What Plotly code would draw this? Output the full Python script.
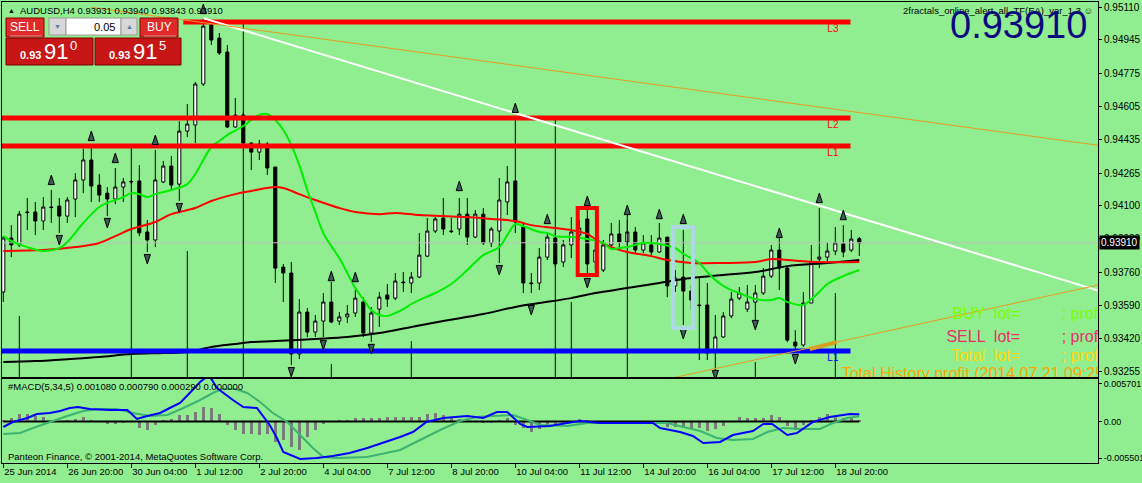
import plotly.graph_objects as go

# ---------------- price data (AUDUSD H4), one value per bar ----------------
bars = list(range(108))
opens = [0.93659,0.93934,0.93899,0.94067,0.94067,0.94021,0.94092,0.94097,0.94046,0.94133,
         0.94230,0.94332,0.94204,0.94163,0.94133,0.94194,0.94220,0.94225,0.93965,0.93924,
         0.94220,0.94301,0.94209,0.94479,0.94510,0.94719,0.95020,0.94953,0.94882,0.94500,
         0.94561,0.94418,0.94372,0.94413,0.94296,0.93786,0.93756,0.93343,0.93557,0.93455,
         0.93511,0.93608,0.93511,0.93532,0.93552,0.93608,0.93450,0.93572,0.93644,0.93628,
         0.93710,0.93705,0.93735,0.93842,0.93970,0.94036,0.93970,0.93980,0.94056,0.93939,
         0.94056,0.93909,0.93970,0.94118,0.94225,0.93990,0.93705,0.93705,0.93837,0.93934,
         0.93812,0.93899,0.93949,0.94031,0.93812,0.93771,0.93899,0.93955,0.93914,0.93965,
         0.93873,0.93899,0.93863,0.93939,0.93690,0.93735,0.93664,0.93593,0.93593,0.93353,
         0.93430,0.93537,0.93628,0.93572,0.93608,0.93654,0.93740,0.93873,0.93781,0.93404,
         0.93389,0.93603,0.93827,0.93837,0.93868,0.93904,0.93873,0.93931]
highs = [0.93944,0.94000,0.94072,0.94138,0.94118,0.94143,0.94179,0.94138,0.94143,0.94265,
         0.94388,0.94403,0.94260,0.94194,0.94291,0.94240,0.94230,0.94306,0.94026,0.94383,
         0.94327,0.94352,0.94530,0.94617,0.94729,0.95055,0.95035,0.94979,0.94918,0.94648,
         0.94576,0.94423,0.94434,0.94423,0.94296,0.93802,0.93812,0.93623,0.93577,0.93542,
         0.93654,0.93710,0.93557,0.93593,0.93669,0.93633,0.93583,0.93659,0.93700,0.93756,
         0.93761,0.93761,0.93960,0.94036,0.94041,0.94138,0.94036,0.94138,0.94138,0.94077,
         0.94087,0.93990,0.94240,0.94301,0.94551,0.94016,0.93756,0.93883,0.93960,0.93960,
         0.93924,0.94041,0.94026,0.94077,0.93924,0.93924,0.94011,0.94026,0.94026,0.93990,
         0.93949,0.93949,0.94011,0.93939,0.93771,0.93975,0.93695,0.93735,0.93705,0.93542,
         0.93557,0.93659,0.93684,0.93695,0.93695,0.93781,0.93899,0.93934,0.93786,0.93465,
         0.93659,0.93899,0.94087,0.93914,0.93990,0.94000,0.93975,0.93940]
lows = [0.93608,0.93837,0.93888,0.93975,0.93949,0.93975,0.94011,0.93960,0.94011,0.94041,
        0.94163,0.94118,0.94118,0.94046,0.94107,0.94118,0.94209,0.93944,0.93863,0.93888,
        0.94214,0.94174,0.94123,0.94449,0.94418,0.94709,0.94918,0.94867,0.94495,0.94497,
        0.94408,0.94281,0.94332,0.94255,0.93705,0.93608,0.93287,0.93317,0.93430,0.93430,
        0.93430,0.93501,0.93491,0.93501,0.93532,0.93430,0.93404,0.93481,0.93583,0.93618,
        0.93659,0.93654,0.93730,0.93837,0.93960,0.93949,0.93960,0.93949,0.93899,0.93934,
        0.93899,0.93888,0.93807,0.94051,0.93960,0.93654,0.93654,0.93669,0.93822,0.93786,
        0.93786,0.93832,0.93924,0.93756,0.93771,0.93761,0.93888,0.93888,0.93899,0.93858,
        0.93858,0.93847,0.93858,0.93633,0.93659,0.93491,0.93567,0.93312,0.93312,0.93261,
        0.93425,0.93526,0.93618,0.93557,0.93516,0.93644,0.93730,0.93669,0.93404,0.93363,
        0.93379,0.93603,0.93781,0.93812,0.93847,0.93837,0.93863,0.93843]
closes = [0.93934,0.93899,0.94056,0.94064,0.94021,0.94092,0.94090,0.94046,0.94128,0.94230,
          0.94332,0.94199,0.94153,0.94133,0.94194,0.94220,0.94222,0.93960,0.93924,0.94230,
          0.94301,0.94204,0.94479,0.94515,0.94719,0.95014,0.94943,0.94877,0.94500,0.94561,
          0.94418,0.94372,0.94413,0.94291,0.93781,0.93756,0.93343,0.93557,0.93455,0.93511,
          0.93608,0.93506,0.93532,0.93547,0.93628,0.93450,0.93552,0.93633,0.93623,0.93715,
          0.93707,0.93735,0.93847,0.93970,0.94031,0.93980,0.93967,0.94056,0.93939,0.94056,
          0.93909,0.93980,0.94128,0.94220,0.94016,0.93705,0.93702,0.93837,0.93939,0.93802,
          0.93899,0.93965,0.93985,0.93802,0.93873,0.93899,0.93955,0.93914,0.93965,0.93873,
          0.93909,0.93863,0.93934,0.93690,0.93730,0.93664,0.93618,0.93590,0.93348,0.93430,
          0.93537,0.93623,0.93654,0.93608,0.93654,0.93740,0.93873,0.93781,0.93414,0.93384,
          0.93603,0.93812,0.93837,0.93868,0.93909,0.93863,0.93929,0.93910]

# moving averages (read at sample bars)
ma_fast_bars = [0,1,3,5,7,8,10,12,13,15,16,17,18,19,21,23,24,26,27,28,30,31,32,33,34,35,36,37,38,39,40,
                41,42,43,44,45,46,47,48,49,50,51,52,54,56,58,60,62,63,64,65,67,68,69,71,73,75,76,77,78,
                80,82,84,85,86,87,88,89,90,91,92,94,96,97,98,100,101,102,103,105,107]
ma_fast = [0.93944,0.93919,0.93888,0.93868,0.93883,0.93914,0.94011,0.94092,0.94113,0.94143,0.94163,0.94158,
           0.94143,0.94158,0.94179,0.94209,0.94260,0.94398,0.94429,0.94459,0.94505,0.94536,0.94561,0.94566,
           0.94536,0.94485,0.94408,0.94306,0.94179,0.94067,0.93960,0.93893,0.93832,0.93756,0.93679,0.93623,
           0.93567,0.93542,0.93537,0.93552,0.93572,0.93598,0.93618,0.93654,0.93700,0.93771,0.93847,0.93888,
           0.93949,0.94005,0.93995,0.93965,0.93960,0.93944,0.93939,0.93929,0.93909,0.93878,0.93883,0.93888,
           0.93909,0.93904,0.93883,0.93853,0.93832,0.93807,0.93761,0.93720,0.93690,0.93669,0.93654,0.93623,
           0.93618,0.93628,0.93608,0.93593,0.93623,0.93659,0.93700,0.93740,0.93771]
ma_mid_bars = [0,5,9,12,14,16,19,21,24,26,29,31,34,35,37,39,42,44,47,49,52,55,58,61,64,66,69,71,73,74,
               76,78,81,83,86,90,94,96,98,102,107]
ma_mid = [0.93868,0.93873,0.93888,0.93909,0.93944,0.93980,0.94016,0.94056,0.94087,0.94123,0.94158,0.94174,
          0.94194,0.94189,0.94158,0.94128,0.94087,0.94067,0.94056,0.94062,0.94051,0.94046,0.94041,0.94031,
          0.94021,0.94000,0.93985,0.93975,0.93955,0.93929,0.93888,0.93863,0.93842,0.93822,0.93807,0.93807,
          0.93812,0.93827,0.93822,0.93812,0.93812]
ma_slow_bars = [0,4,8,12,16,20,23,26,29,31,34,39,43,47,51,55,60,64,67,71,74,78,82,86,90,94,98,103,107]
ma_slow = [0.93302,0.93307,0.93317,0.93328,0.93343,0.93348,0.93353,0.93379,0.93394,0.93404,0.93409,0.93420,
           0.93430,0.93450,0.93481,0.93511,0.93547,0.93583,0.93603,0.93628,0.93654,0.93679,0.93705,0.93730,
           0.93746,0.93761,0.93791,0.93807,0.93822]

# fractals (arrow tip positions)
fractal_up_bars = [6,11,14,19,25,41,44,57,64,68,73,78,82,85,97,102,105]
fractal_up = [0.94255,0.94479,0.94367,0.94459,0.95126,0.93765,0.93760,0.94224,0.94622,0.94056,0.94148,
              0.94102,0.94081,0.94056,0.93985,0.94163,0.94076]
fractal_dn_bars = [7,13,18,22,36,40,46,62,66,73,85,89,94,99]
fractal_dn = [0.93899,0.93986,0.93802,0.94062,0.93226,0.93364,0.93344,0.93746,0.93542,0.93680,0.93420,
              0.93211,0.93466,0.93292]

# horizontal levels
level_names = ["L3", "L2", "L1", "L1"]
level_prices = [0.95035, 0.94546, 0.94403, 0.93358]
level_start = [22.5, -1, -1, -1]
level_end = [105.9, 105.9, 105.9, 105.9]
level_colors = ["#ff0000", "#ff0000", "#ff0000", "#0000ff"]

# vertical marker lines (bar, top price)
vline_bars = [2, 16, 23, 30, 41, 51, 69, 71, 78, 94, 104]
vline_tops = [0.93537, 0.94403, 0.93868, 0.95045, 0.93292, 0.93409, 0.94551, 0.93608, 0.94077, 0.93302, 0.93654]

# trend lines (bar0, price0, bar1, price1)
white_line = [25, 0.95055, 137, 0.93665]
orange_upper = [11, 0.95110, 137, 0.94406]
orange_lower = [80, 0.93189, 137, 0.93696]
gold_segment = [100.8, 0.93369, 104.2, 0.93404]

# highlight boxes (bar0, bar1, price top, price bottom)
red_box = [71.8, 74.2, 0.94087, 0.93746]
blue_box = [83.7, 86.2, 0.93990, 0.93476]

bid = 0.93910

# MACD(5,34,5)
macd_hist = [0.000225,0.000525,0.001125,0.001125,0.000825,0.000675,0.000075,0.000075,0.000225,0.000375,
             0.000675,0.000225,-0.000075,-0.000375,-0.000375,-0.000225,0.000075,-0.000975,-0.001275,-0.000525,
             0.000225,0.000375,0.000975,0.000975,0.001425,0.002175,0.002025,0.001125,-0.000525,-0.001275,
             -0.001875,-0.001875,-0.002025,-0.001875,-0.003075,-0.002775,-0.003825,-0.004275,-0.002325,-0.001275,
             -0.000375,0.000075,0.000225,0.000225,0.000525,0.000525,0.000525,0.000525,0.000675,0.000675,
             0.000675,0.000675,0.000675,0.001125,0.001275,0.000975,0.000525,0.000375,0.000225,0.000075,
             -0.000225,-0.000225,0.000225,0.000525,-0.000525,-0.000975,-0.001575,-0.001125,-0.000525,-0.000525,
             -0.000375,-0.000075,0.000375,0.000225,0.000075,0.000075,0.000075,-0.000075,0.000075,0.000075,
             -0.000075,-0.000075,-0.000225,-0.000825,-0.000825,-0.000975,-0.001125,-0.000975,-0.001425,-0.001125,
             -0.000675,0.000075,0.000675,0.000525,0.000525,0.000525,0.000975,0.000675,-0.000675,-0.001275,
             -0.000525,0.000225,0.000675,0.001125,0.000675,0.000525,0.000525,0.00029]
macd_main_bars = [0,1.2,3,4.2,5.8,7.1,8.3,9.3,10.8,13.3,15.5,16.7,18,19.6,20.8,22.1,23.3,24.6,25.7,26.7,
                  28.7,30,31.7,32.5,33.3,34.2,35,37.1,39.2,41.2,43.3,45.5,47.5,49.6,51.2,52.9,55,58,60,61.7,
                  63,64.6,65.5,68.3,70.5,72.1,74.6,78.7,81.2,82.1,84.6,86.2,87.5,89.6,91.2,93.7,95,96.1,98,99.2,
                  101.2,103.3,105.8,107]
macd_main = [-0.000825,-0.000075,0.000525,0.001125,0.001275,0.001575,0.002025,0.002175,0.001875,0.001725,
             0.001725,0.000375,0.000825,0.001275,0.002025,0.002775,0.004275,0.005925,0.006975,0.005025,
             0.003225,0.002175,0.002025,0.000675,-0.000525,-0.002475,-0.004575,-0.005625,-0.005475,-0.005175,
             -0.004725,-0.003975,-0.003225,-0.002325,-0.001575,-0.000075,0.000525,0.000825,0.000525,0.001425,
             0.001425,-0.000375,-0.000825,-0.000675,-0.000225,0.000075,-0.000225,-0.000225,-0.000225,-0.000975,
             -0.001575,-0.002175,-0.003225,-0.003075,-0.002025,-0.001425,-0.000375,-0.000375,-0.002025,-0.001725,
             -0.000075,0.000675,0.001125,0.00108]
macd_signal_bars = [0,2.1,3.7,5.8,8,10,12.1,14.2,16.2,18.3,20.5,22.5,24.6,26.2,27.3,29,30.5,32.1,33.7,35.5,
                    37.1,38.7,40,41.7,45.5,49.6,52.1,54.6,57.1,59.2,61.2,63.7,65.5,67.1,70.5,73,77.1,83,85,87.1,
                    89.2,91.2,93.7,95.5,97.5,99.6,102.1,103.7,105.5,107]
macd_signal = [-0.001875,-0.001725,-0.000975,-0.000075,0.000825,0.001575,0.001875,0.001875,0.001275,0.000825,
               0.000975,0.002025,0.003225,0.004275,0.004875,0.004875,0.004275,0.002925,0.001275,-0.000075,
               -0.002025,-0.003975,-0.005325,-0.005475,-0.005325,-0.004275,-0.002775,-0.001275,0.000075,0.000675,
               0.000825,0.000975,0.000225,-0.000525,-0.000675,-0.000225,-0.000225,-0.000225,-0.000825,-0.001425,
               -0.002475,-0.002775,-0.002625,-0.001575,-0.000975,-0.001125,-0.001125,-0.000225,0.000525,0.00079]

# axis ticks
time_tick_bars = [0, 8, 16, 24, 32, 40, 48, 56, 64, 72, 80, 88, 96, 104]
time_tick_labels = ["25 Jun 2014", "26 Jun 20:00", "30 Jun 04:00", "1 Jul 12:00", "2 Jul 20:00",
                    "4 Jul 04:00", "7 Jul 12:00", "8 Jul 20:00", "10 Jul 04:00", "11 Jul 12:00",
                    "14 Jul 20:00", "16 Jul 04:00", "17 Jul 12:00", "18 Jul 20:00"]
price_ticks = [0.95110, 0.94945, 0.94775, 0.94605, 0.94435, 0.94265, 0.94100, 0.93930,
               0.93760, 0.93590, 0.93420, 0.93255]
price_tick_labels = ["%.5f" % v for v in price_ticks]
macd_ticks = [0.005701, 0.0, -0.005501]
macd_tick_labels = ["0.005701", "0.00", "-0.005501"]

# ---------------- layout geometry ----------------
W, H = 1142, 483
ML, MR, MT, MB = 2, 44, 2, 20
PW, PH = W - ML - MR, H - MT - MB
MAIN_BOT, MACD_TOP = 377, 379
FONT = "Liberation Sans, Arial, sans-serif"
BG = "#90ee90"

def fx(px):
    return (px - ML) / PW

def fy(py):
    return (H - MB - py) / PH

x_range = [-0.1625, 136.8375]
y_main_range = [0.93226, 0.95137]
y_macd_range = [-0.006225, 0.006375]

fig = go.Figure()

# bid line
fig.add_trace(go.Scatter(x=x_range, y=[bid, bid], mode="lines",
                         line=dict(color="#c0c0c0", width=1), hoverinfo="skip"))
# vertical marker lines
vx, vy = [], []
for b, t in zip(vline_bars, vline_tops):
    vx += [b, b, None]
    vy += [t, y_main_range[0] - 0.001, None]
fig.add_trace(go.Scatter(x=vx, y=vy, mode="lines", line=dict(color="black", width=1), hoverinfo="skip"))

# candles
fig.add_trace(go.Candlestick(
    x=bars, open=opens, high=highs, low=lows, close=closes,
    increasing=dict(line=dict(color="black", width=1), fillcolor="white"),
    decreasing=dict(line=dict(color="black", width=1), fillcolor="black"),
    whiskerwidth=0, hoverinfo="skip"))

# moving averages
fig.add_trace(go.Scatter(x=ma_slow_bars, y=ma_slow, mode="lines", line=dict(color="black", width=2, shape="spline"), hoverinfo="skip"))
fig.add_trace(go.Scatter(x=ma_mid_bars, y=ma_mid, mode="lines", line=dict(color="#ff0000", width=2, shape="spline"), hoverinfo="skip"))
fig.add_trace(go.Scatter(x=ma_fast_bars, y=ma_fast, mode="lines", line=dict(color="#00ee00", width=2, shape="spline"), hoverinfo="skip"))

# levels
for nm, p, s, e, c in zip(level_names, level_prices, level_start, level_end, level_colors):
    fig.add_trace(go.Scatter(x=[s, e], y=[p, p], mode="lines", line=dict(color=c, width=5), hoverinfo="skip"))

# trend lines
for ln, col, wd in [(white_line, "white", 2), (orange_upper, "#e89a20", 1), (orange_lower, "#e89a20", 1),
                    (gold_segment, "#d8a020", 4)]:
    fig.add_trace(go.Scatter(x=[ln[0], ln[2]], y=[ln[1], ln[3]], mode="lines",
                             line=dict(color=col, width=wd), hoverinfo="skip"))

# level labels
lab_x = [103.7] * 4
lab_y = [0.94995, 0.94506, 0.94363, 0.93318]
fig.add_trace(go.Scatter(x=lab_x, y=lab_y, mode="text", text=level_names,
                         textfont=dict(color=level_colors, size=10, family=FONT), hoverinfo="skip"))

# fractals
fig.add_trace(go.Scatter(x=fractal_up_bars, y=fractal_up, mode="markers",
                         marker=dict(symbol="arrow", size=10, color="#3c5c5c",
                                     line=dict(color="black", width=1)), hoverinfo="skip"))
fig.add_trace(go.Scatter(x=fractal_dn_bars, y=fractal_dn, mode="markers",
                         marker=dict(symbol="arrow", angle=180, size=10, color="#3c5c5c",
                                     line=dict(color="black", width=1)), hoverinfo="skip"))

# EA texts (clipped by plot area)
row_y = [0.93542, 0.93425, 0.93328]
row_labels = ["BUY  lot=", "SELL  lot=", "Total  lot="]
row_colors = ["#7cfc00", "#e6306e", "#ffd700"]
fig.add_trace(go.Scatter(x=[127.1] * 3, y=row_y, mode="text", text=row_labels, textposition="middle left",
                         textfont=dict(color=row_colors, size=16, family=FONT), hoverinfo="skip"))
fig.add_trace(go.Scatter(x=[132.3] * 3, y=row_y, mode="text", text=["; prof"] * 3, textposition="middle right",
                         textfont=dict(color=row_colors, size=16, family=FONT), hoverinfo="skip"))
fig.add_trace(go.Scatter(x=[104.8], y=[0.93238], mode="text", text=["Total History profit (2014.07.21 09:25)"],
                         textposition="middle right",
                         textfont=dict(color="#ffa500", size=16, family=FONT), hoverinfo="skip"))

# ---------------- MACD panel ----------------
fig.add_trace(go.Bar(x=bars, y=macd_hist, width=0.4, marker=dict(color="#7a7a7a", line=dict(width=0)),
                     xaxis="x2", yaxis="y2", hoverinfo="skip"))
fig.add_trace(go.Scatter(x=[bars[0], bars[-1]], y=[0, 0], mode="lines", line=dict(color="black", width=2),
                         xaxis="x2", yaxis="y2", hoverinfo="skip"))
fig.add_trace(go.Scatter(x=macd_signal_bars, y=macd_signal, mode="lines", line=dict(color="#3cb371", width=2),
                         xaxis="x2", yaxis="y2", hoverinfo="skip"))
fig.add_trace(go.Scatter(x=macd_main_bars, y=macd_main, mode="lines", line=dict(color="#0000ff", width=2),
                         xaxis="x2", yaxis="y2", hoverinfo="skip"))

# ---------------- overlay panel shapes ----------------
shapes = []
def rect(x0, y0, x1, y1, fill, line, lw=1):
    shapes.append(dict(type="rect", xref="paper", yref="paper", x0=fx(x0), x1=fx(x1), y0=fy(y1), y1=fy(y0),
                       fillcolor=fill, line=dict(color=line, width=lw), layer="above"))

rect(6, 18, 44, 37, "#e02a2a", "#8a0000")
rect(49, 18, 66, 35, "#d8d8d8", "#9a9a9a")
rect(66, 18, 121, 35, "white", "#9a9a9a")
rect(121, 18, 137, 35, "#d8d8d8", "#9a9a9a")
rect(140, 18, 178, 37, "#e02a2a", "#8a0000")
rect(6, 38, 93, 65, "#c81616", "#7a0000")
rect(95, 38, 181, 65, "#c81616", "#7a0000")
shapes.append(dict(type="line", xref="paper", yref="paper", x0=fx(10), x1=fx(42), y0=fy(36), y1=fy(36),
                   line=dict(color="#f09090", width=1), layer="above"))
shapes.append(dict(type="line", xref="paper", yref="paper", x0=fx(144), x1=fx(176), y0=fy(36), y1=fy(36),
                   line=dict(color="#f09090", width=1), layer="above"))
# highlight boxes
shapes.append(dict(type="rect", xref="x", yref="y", x0=red_box[0], x1=red_box[1], y0=red_box[3], y1=red_box[2],
                   line=dict(color="#ff0000", width=4), layer="above"))
shapes.append(dict(type="rect", xref="x", yref="y", x0=blue_box[0], x1=blue_box[1], y0=blue_box[3], y1=blue_box[2],
                   line=dict(color="#add8e6", width=4), layer="above"))

annotations = []
def ann(text, x, y, size, color="black", xanchor="left", **kw):
    annotations.append(dict(text=text, x=fx(x), y=fy(y), xref="paper", yref="paper", xanchor=xanchor,
                            yanchor="middle", showarrow=False,
                            font=dict(size=size, color=color, family=kw.pop("family", FONT)), **kw))

ann("▲", 6, 10, 7)
ann("AUDUSD,H4 0.93931 0.93940 0.93843 0.93910", 18, 10, 9.5)
ann("SELL", 25, 27, 12, "white", "center")
ann("▼", 57.5, 26.5, 7, "#5a78a8", "center")
ann("0.05", 117, 26.5, 11, "black", "right")
ann("▲", 129, 26.5, 7, "#5a78a8", "center")
ann("BUY", 159, 27, 12, "white", "center")
ann("<b>0.93</b>", 18, 55, 11, "white")
ann("91", 42, 51, 22, "white")
ann("0", 68, 45, 13, "white")
ann("<b>0.93</b>", 107, 55, 11, "white")
ann("91", 131, 51, 22, "white")
ann("5", 157, 45, 13, "white")
ann("2fractals_online_alert_all_TF(EA)_var_1.3 ☺", 1095, 10, 9.5, "black", "right")
ann("0.93910", 1089, 25, 38, "#0b0b80", "right")
ann("#MACD(5,34,5) 0.001080 0.000790 0.000290 0.000000", 6, 386, 9.5)
ann("Panteon Finance, © 2001-2014, MetaQuotes Software Corp.", 6, 456, 9.5)
annotations.append(dict(text="0.93910", x=fx(1099), y=bid, xref="paper", yref="y", xanchor="left",
                        yanchor="middle", showarrow=False, bgcolor="black", borderpad=1,
                        font=dict(size=10, color="white", family=FONT)))

axis_common = dict(showgrid=False, zeroline=False, showline=True, mirror=True, linecolor="black",
                   linewidth=1, automargin=False)
yfont = dict(size=10, family=FONT, color="black")
xfont = dict(size=9.5, family=FONT, color="black")

fig.update_layout(
    width=W, height=H, margin=dict(l=ML, r=MR, t=MT, b=MB),
    paper_bgcolor=BG, plot_bgcolor=BG, showlegend=False, boxgap=0.45, bargap=0,
    font=dict(family=FONT, size=10, color="black"),
    shapes=shapes, annotations=annotations,
    xaxis=dict(domain=[0, 1], anchor="y", range=x_range, showticklabels=False, ticks="",
               rangeslider=dict(visible=False), **axis_common),
    yaxis=dict(domain=[fy(MAIN_BOT), 1], anchor="x", side="right", range=y_main_range,
               tickvals=price_ticks, ticktext=price_tick_labels, ticks="outside", ticklen=3,
               tickcolor="black", tickfont=yfont, **axis_common),
    xaxis2=dict(domain=[0, 1], anchor="y2", range=x_range, tickvals=time_tick_bars, ticktext=time_tick_labels,
                ticks="outside", ticklen=4, tickcolor="black", ticklabelposition="outside right", tickangle=0,
                tickfont=xfont, **axis_common),
    yaxis2=dict(domain=[0, fy(MACD_TOP)], anchor="x2", side="right", range=y_macd_range,
                tickvals=macd_ticks, ticktext=macd_tick_labels, ticks="outside", ticklen=3,
                tickcolor="black", tickfont=dict(size=9, family=FONT, color="black"), **axis_common),
)

fig.write_html("out.html", config={"displayModeBar": False},
               post_script="document.body.style.margin='0px';document.body.style.overflow='hidden';"
                           "document.body.style.background='" + BG + "';")
